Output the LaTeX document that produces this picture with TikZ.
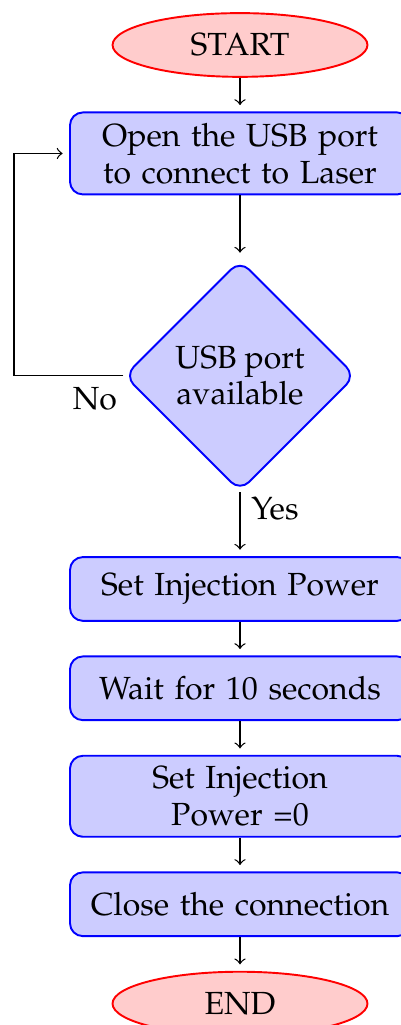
\documentclass[tikz,border=0pt]{standalone}
\usepackage[T1]{fontenc}
\usepackage{mathpazo}
\usetikzlibrary{shapes.geometric, positioning}

\begin{document}
\begin{tikzpicture}[
  node distance=3.7mm,
  every node/.style={font=\fontsize{10pt}{11.5pt}\selectfont},
  startstop/.style={ellipse, draw=red, fill=red!20, semithick, minimum width=2.8cm, minimum height=0.7cm},
  process/.style={rectangle, rounded corners, draw=blue, fill=blue!20, semithick, text width=3.5cm, align=center, minimum height=0.7cm},
  decision/.style={diamond, aspect=1, rounded corners, draw=blue, fill=blue!20, semithick, align=center},
  flowline/.style={draw, ->, shorten >=2pt}
]
\useasboundingbox (-75pt,14.06pt) rectangle (50.3pt,-306.25pt);

\node [startstop] (start) {START};
\node [process, below=of start] (open) {Open the USB port\\to connect to Laser};
\node [decision, below=7mm of open] (check) {USB port\\available};
\node [process, below=7mm of check] (power) {Set Injection Power};
\node [process, below=of power] (wait) {Wait for 10 seconds};
\node [process, below=of wait] (zero) {Set Injection\\Power =0};
\node [process, below=of zero] (close) {Close the connection};
\node [startstop, below=of close] (stop) {END};

\draw [flowline] (start) -- (open);
\draw [flowline] (open) -- (check);
\draw [flowline] (check) -- node[right, pos=0.25] {Yes} (power);
\draw [flowline] (power) -- (wait);
\draw [flowline] (wait) -- (zero);
\draw [flowline] (zero) -- (close);
\draw [flowline] (close) -- (stop);
% back to the port when it is not there
\draw [flowline] (check.west) node[below left, xshift=1.5pt] {No} -- ++(-1.2cm,0) |- (open.west);
\end{tikzpicture}
\end{document}
